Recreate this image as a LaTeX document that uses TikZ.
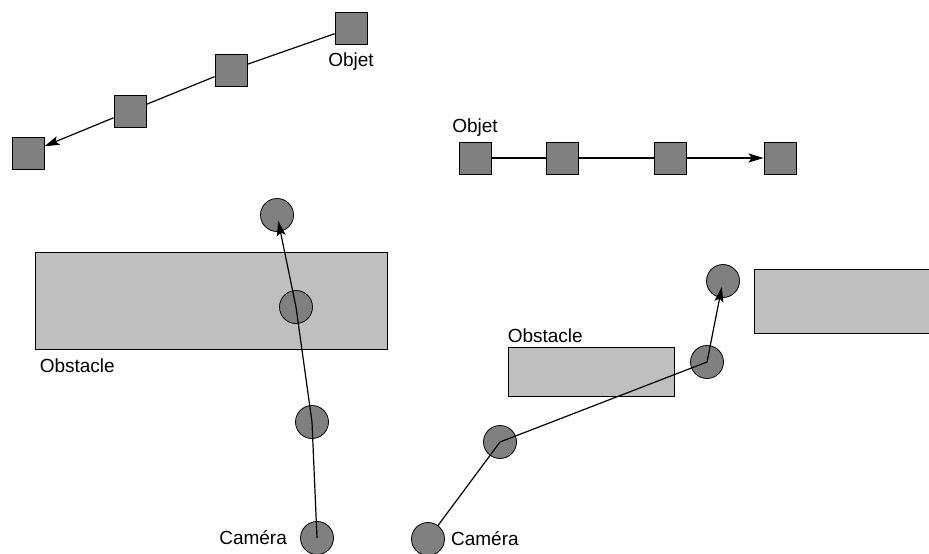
\documentclass[tikz,border=0pt]{standalone}
\usepackage{fontspec}
\setmainfont{Liberation Sans}
\usetikzlibrary{arrows.meta,positioning}
\newcommand{\itemcolor}{gray}
\newcommand{\wallcolor}{lightgray}
\newcommand{\edgewidth}{0.8pt}
\newcommand{\trackwidth}{1.2pt}

\begin{document}
\begin{tikzpicture}[x=1pt,y=-1pt,
  block/.style={draw, fill=\itemcolor, minimum size=32pt, inner sep=0pt, line width=\edgewidth},
  spot/.style={circle, draw, fill=\itemcolor, minimum size=33pt, inner sep=0pt, line width=\edgewidth},
  wall/.style={draw, fill=\wallcolor, inner sep=0pt, line width=\edgewidth},
  track/.style={line width=\trackwidth},
  tip/.style={-{Stealth[length=15pt,width=9pt,inset=3pt]}},
  lbl/.style={inner sep=0pt, font=\fontsize{19}{22}\selectfont}]
\clip (0,0) rectangle (929,554);
%objet, diagonal
\node[block] (o1) at (28, 153) {};
\node[block] (o2) at (130, 111) {};
\node[block] (o3) at (231, 70) {};
\node[block] (o4) at (351, 28) {};
\node[lbl, below=8pt of o4] (objA) {Objet};
\draw[track] (o4) -- (o3);
\draw[track] (o3) -- (o2);
\draw[track, tip] (o2) -- (o1);
%objet, horizontal
\node[block] (p1) at (475, 158) {};
\node[block] (p2) at (562, 158) {};
\node[block] (p3) at (670, 158) {};
\node[block] (p4) at (780, 158) {};
\node[lbl, above=5pt of p1] (objB) {Objet};
\draw[track] (p1) -- (p2);
\draw[track] (p2) -- (p3);
\draw[track, tip] (p3) -- (p4);
%camera, left
\node[wall, minimum width=352pt, minimum height=97pt] (wallA) at (211, 300.5) {};
\node[lbl, below right=9pt and 5pt of wallA.south west] (obsA) {Obstacle};
\node[spot] (c1) at (317, 538) {};
\node[spot] (c2) at (312, 422) {};
\node[spot] (c3) at (296, 307) {};
\node[spot] (c4) at (277, 215) {};
\node[lbl, left=13pt of c1] (camA) {Caméra};
\draw[track, tip, shorten >=6pt] (c1.center) -- (c2.center) -- (c3.center) -- (c4.center);
%camera, right
\node[wall, minimum width=166pt, minimum height=49pt] (wallB) at (591, 371.5) {};
\node[wall, minimum width=200pt, minimum height=64pt, anchor=north west] (wallC) at (754, 269) {};
\node[lbl, above right=4pt and 0pt of wallB.north west] (obsB) {Obstacle};
\node[spot] (d1) at (428, 539) {};
\node[spot] (d2) at (500, 442) {};
\node[spot] (d3) at (707, 362) {};
\node[spot] (d4) at (723, 281) {};
\node[lbl, right=6pt of d1] (camB) {Caméra};
\draw[track, tip, shorten >=6pt] (d1) -- (d2.center) -- (d3.center) -- (d4.center);
\end{tikzpicture}
\end{document}
